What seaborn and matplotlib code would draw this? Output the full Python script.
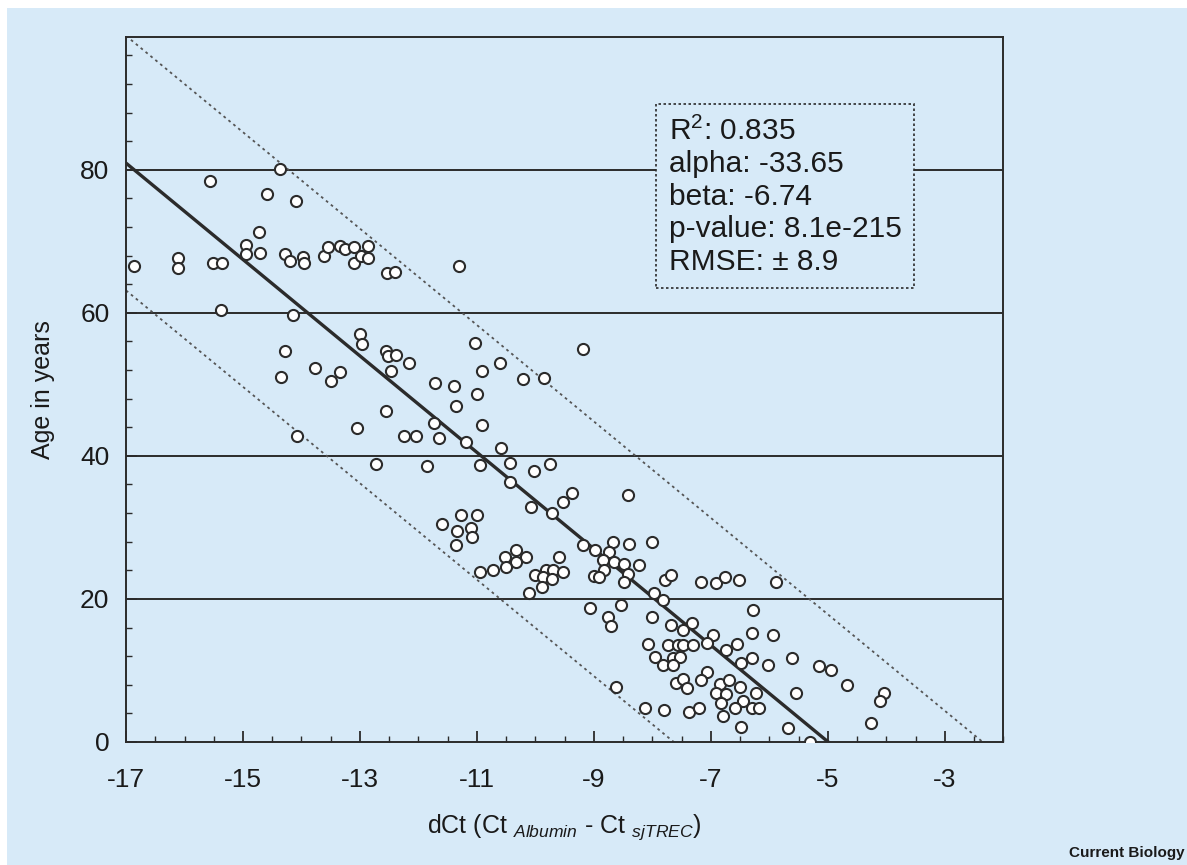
import matplotlib
matplotlib.use("Agg")
import matplotlib.pyplot as plt
import numpy as np
import pandas as pd
import seaborn as sns
from matplotlib.ticker import MultipleLocator
from matplotlib.patches import Rectangle

# dCt and age values
DCT = [-16.86, -16.12, -16.12, -15.56, -15.51, -15.36, -15.38, -14.95, -14.95, -14.72,
       -14.71, -14.59, -14.37, -14.28, -14.20, -14.10, -14.15, -13.97, -13.96, -13.62,
       -13.55, -13.34, -13.26, -13.11, -13.10, -12.98, -12.86, -12.86, -12.54, -12.40,
       -11.31,
       -13.00, -12.96, -14.28, -14.35, -13.77, -13.34, -13.50, -12.56, -12.52, -12.39,
       -12.17, -12.47, -11.72, -11.39, -11.35, -11.00, -10.91, -11.03, -10.61, -12.56,
       -13.05, -14.07, -12.25, -12.04, -11.74, -11.65, -11.19, -10.91, -10.58, -12.73,
       -11.86, -10.95, -9.19, -10.21, -9.85, -10.44, -10.03, -9.75, -10.44, -9.38,
       -8.42, -9.53,
       -10.08, -9.72, -11.60, -11.28, -11.00, -11.34, -11.10, -11.08, -11.35, -9.18,
       -8.98, -8.68, -8.40, -8.00, -8.74, -10.33, -10.52, -10.16, -10.33, -10.51,
       -10.72, -10.94, -9.59, -9.82, -9.70, -9.52, -10.01, -9.87, -9.72, -9.89,
       -10.11, -8.84, -8.66, -8.48, -8.23, -8.82, -8.99, -8.91, -8.42, -8.48,
       -7.97, -9.07, -8.53, -8.76, -8.71, -8.00, -8.07,
       -7.79, -7.68, -7.16, -6.91, -6.76, -6.52, -5.88, -7.82, -6.28, -7.68,
       -7.48, -7.33, -6.96, -6.29, -5.93, -7.74, -7.56, -7.47, -7.31, -7.07,
       -6.74, -6.55, -7.96, -7.65, -7.53, -7.82, -7.64, -6.48, -6.30, -6.03,
       -5.61, -5.15, -4.95, -4.67, -7.06, -7.17, -7.60, -7.48, -7.41, -6.85,
       -6.69, -6.50, -6.91, -6.74, -6.82, -6.22, -6.45, -5.55, -4.04, -4.10,
       -8.13, -7.80, -7.37, -7.20, -6.80, -6.59, -6.29, -6.17, -6.48, -5.68,
       -4.26, -5.31, -8.62]
AGE = [66.5, 67.6, 66.2, 78.5, 67.0, 67.0, 60.4, 69.5, 68.2, 71.3,
       68.3, 76.6, 80.1, 68.2, 67.2, 75.6, 59.7, 67.8, 67.0, 68.0,
       69.2, 69.3, 68.9, 69.2, 66.9, 67.9, 69.3, 67.7, 65.6, 65.7,
       66.5,
       57.1, 55.7, 54.6, 51.0, 52.3, 51.7, 50.5, 54.7, 53.9, 54.1,
       53.0, 51.9, 50.2, 49.8, 47.0, 48.7, 51.8, 55.8, 53.0, 46.3,
       43.9, 42.8, 42.8, 42.8, 44.6, 42.5, 41.9, 44.3, 41.1, 38.8,
       38.6, 38.7, 55.0, 50.7, 50.9, 39.0, 37.9, 38.9, 36.4, 34.8,
       34.6, 33.5,
       32.9, 32.0, 30.5, 31.8, 31.7, 29.5, 29.9, 28.6, 27.5, 27.6,
       26.8, 28.0, 27.7, 27.9, 26.5, 26.8, 25.8, 25.8, 25.1, 24.5,
       24.1, 23.7, 25.8, 24.0, 24.0, 23.8, 23.4, 23.0, 22.8, 21.6,
       20.9, 25.4, 25.1, 24.9, 24.8, 24.1, 23.2, 23.1, 23.5, 22.3,
       20.9, 18.8, 19.2, 17.5, 16.2, 17.5, 13.7,
       22.7, 23.4, 22.3, 22.2, 23.0, 22.7, 22.3, 19.9, 18.4, 16.3,
       15.7, 16.7, 14.9, 15.3, 14.9, 13.6, 13.6, 13.6, 13.6, 13.8,
       12.9, 13.7, 11.9, 11.8, 11.9, 10.8, 10.7, 11.1, 11.7, 10.8,
       11.8, 10.6, 10.0, 8.0, 9.8, 8.7, 8.2, 8.8, 7.6, 8.1,
       8.7, 7.7, 6.8, 6.7, 5.5, 6.8, 5.8, 6.8, 6.8, 5.8,
       4.7, 4.5, 4.2, 4.7, 3.7, 4.7, 4.7, 4.7, 2.1, 1.9,
       2.6, 0.0, 7.7]

# regression stats shown in the box
R2 = 0.835
ALPHA = -33.65
BETA = -6.74
PVALUE = "8.1e-215"
RMSE = 8.9

BG = "#d7eaf8"
INK = "#2b2b2b"
TXT = "#1a1a1a"

sns.set_style("ticks")
plt.rcParams["font.family"] = ["Liberation Sans", "DejaVu Sans"]
plt.rcParams["axes.unicode_minus"] = False
plt.rcParams["mathtext.fontset"] = "custom"
plt.rcParams["mathtext.rm"] = "Liberation Sans"
plt.rcParams["mathtext.it"] = "Liberation Sans:italic"

fig = plt.figure(figsize=(11.87, 8.65), dpi=100, facecolor="white")
fig.patches.append(Rectangle((7 / 1187, 0), 1, 1 - 8 / 865, transform=fig.transFigure,
                             facecolor=BG, edgecolor="none", zorder=-10))
ax = fig.add_axes([0.1062, 0.1422, 0.7390, 0.8145])
ax.set_facecolor(BG)

df = pd.DataFrame({"dct": DCT, "age": AGE})

# fit line and +/- 2 RMSE band
xs = np.array([-17.0, -1.0])
fit = pd.DataFrame({"dct": xs, "age": ALPHA + BETA * xs})
sns.lineplot(data=fit, x="dct", y="age", ax=ax, color=INK, linewidth=2.4, zorder=2)
for off in (2 * RMSE, -2 * RMSE):
    band = pd.DataFrame({"dct": xs, "age": ALPHA + BETA * xs + off})
    sns.lineplot(data=band, x="dct", y="age", ax=ax, color="#555555",
                 linewidth=1.3, linestyle=(0, (1.5, 2)), zorder=2)

sns.scatterplot(data=df, x="dct", y="age", ax=ax, s=64, color="white",
                edgecolor=INK, linewidth=1.5, zorder=3)

for g in (20, 40, 60, 80):
    ax.axhline(g, color=INK, linewidth=1.4, zorder=1)

ax.set_xlim(-17, -2)
ax.set_ylim(0, 98.5)
ax.xaxis.set_major_locator(MultipleLocator(2))
ax.xaxis.set_minor_locator(MultipleLocator(0.5))
ax.yaxis.set_major_locator(MultipleLocator(20))
ax.yaxis.set_minor_locator(MultipleLocator(4))
ax.set_xticks(np.arange(-17, -2, 2))
ax.tick_params(which="major", direction="in", length=8, width=1.3, color=INK,
               labelsize=19, labelcolor=TXT, pad=12)
ax.tick_params(axis="x", which="major", pad=19)
ax.tick_params(which="minor", direction="in", length=4, width=1.0, color=INK)
for s in ax.spines.values():
    s.set_color(INK)
    s.set_linewidth(1.4)

ax.set_xlabel(r"dCt (Ct ${}_{\mathit{Albumin}}$ - Ct ${}_{\mathit{sjTREC}}$)",
              fontsize=18, labelpad=14, color=TXT)
ax.set_ylabel("Age in years", fontsize=18, labelpad=18, color=TXT)

stats = (f"R$^2$: {R2}\nalpha: {ALPHA}\nbeta: {BETA}\n"
         f"p-value: {PVALUE}\nRMSE: \u00b1 {RMSE}")
ax.text(-7.72, 87.4, stats, fontsize=21.5, color=TXT, va="top", ha="left",
        linespacing=1.2, zorder=4,
        bbox=dict(boxstyle="square,pad=0.42", facecolor=BG, edgecolor=INK,
                  linestyle=(0, (1.5, 1.5)), linewidth=1.2))

fig.text(0.998, 0.006, "Current Biology", ha="right", va="bottom", fontsize=11,
         fontweight="bold", color=TXT)

fig.savefig("out.png", dpi=100, facecolor=fig.get_facecolor())
